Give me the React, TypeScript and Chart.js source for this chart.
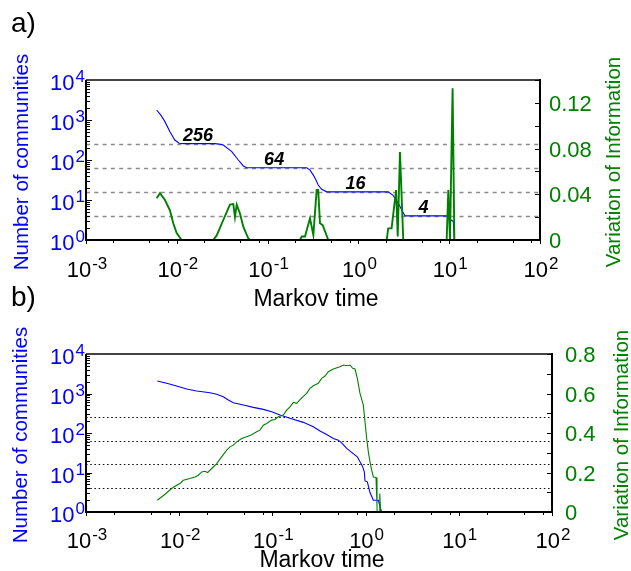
import React, { useEffect, useRef } from "react";
import { Chart, registerables } from "chart.js";

Chart.register(...registerables);

// ---------- Panel a) data ----------
const timeA_N = [0.006, 0.0067, 0.0074, 0.0084, 0.0095, 0.0106, 0.012, 0.0264, 0.029, 0.0325, 0.0403, 0.0476, 0.054, 0.0589, 0.27, 0.293, 0.319, 0.341, 0.361, 0.394, 0.448, 2.13, 2.39, 2.6, 2.82, 3.0, 3.26, 9.78, 10.4, 11.1, 11.4, 100];
const commA = [1780, 1300, 910, 510, 316, 263, 256, 256, 250, 237, 162, 100, 71, 64, 64, 56, 42, 31.6, 23.7, 18.5, 16, 16, 13.3, 10, 7.5, 5.6, 4, 4, 3.2, 2.9, 1, 1];

const timeA_VI = [0.006, 0.00653, 0.0074, 0.0084, 0.00914, 0.00997, 0.0113, 0.0252, 0.0275, 0.0325, 0.0385, 0.0419, 0.0437, 0.0457, 0.0497, 0.054, 0.0612, 0.064, 0.2275, 0.2376, 0.258, 0.293, 0.319, 0.347, 0.361, 0.3775, 0.4045, 0.466, 2.05, 2.13, 2.32, 2.6, 2.71, 2.87, 3.12, 9.38, 9.78, 10.2, 10.9, 11.4, 100];
const viA = [0.0365, 0.041, 0.035, 0.026, 0.0146, 0.006, 0, 0, 0.004, 0.0175, 0.031, 0.0315, 0.02, 0.031, 0.023, 0.0117, 0.0015, 0, 0, 0.003, 0.003, 0.019, 0.0044, 0.0437, 0.0437, 0.0146, 0.013, 0, 0, 0.0102, 0.0102, 0.0437, 0.003, 0.077, 0, 0, 0.0437, 0, 0.1327, 0, 0];

// ---------- Panel b) data ----------
const timeB_N = [0.00583, 0.00734, 0.00939, 0.01202, 0.01539, 0.02141, 0.02523, 0.02975, 0.03366, 0.03809, 0.04876, 0.06243, 0.07992, 0.0982, 0.1207, 0.1544, 0.2147, 0.2749, 0.3241, 0.3822, 0.4505, 0.5098, 0.5535, 0.6263, 0.7087, 0.8153, 0.8708, 0.9226, 0.969, 0.9854, 1.044, 1.115, 1.211, 1.37, 1.452, 1.48, 100];
const commB = [2075, 1815, 1550, 1300, 1157, 1048, 954, 829, 684, 584, 511, 446, 397, 345, 285, 235, 186, 144, 112, 92, 73, 66, 56, 40.6, 32.2, 24.9, 18.6, 14.7, 10.4, 6.1, 5.8, 3.1, 1.98, 1.98, 1.2, 1, 1];

const timeB_VI = [0.00583, 0.00704, 0.0083, 0.00939, 0.0102, 0.01107, 0.01305, 0.01477, 0.01604, 0.01742, 0.01891, 0.0202, 0.02231, 0.02523, 0.02855, 0.03231, 0.03508, 0.03809, 0.04136, 0.0468, 0.05296, 0.05844, 0.06779, 0.07362, 0.07992, 0.08679, 0.0982, 0.1066, 0.1158, 0.1207, 0.131, 0.1422, 0.1544, 0.1677, 0.1822, 0.2061, 0.2331, 0.2531, 0.2749, 0.311, 0.3378, 0.3667, 0.3982, 0.4505, 0.5313, 0.5769, 0.6367, 0.6803, 0.7266, 0.7697, 0.8153, 0.8708, 0.9456, 0.9854, 1.027, 1.07, 1.115, 1.162, 1.211, 1.293, 1.325, 1.33, 1.4, 1.42, 1.45, 100];
const viB = [0.0594, 0.0898, 0.1187, 0.1354, 0.1441, 0.1608, 0.1694, 0.1776, 0.1862, 0.2029, 0.2065, 0.1999, 0.2202, 0.2455, 0.279, 0.313, 0.3297, 0.3384, 0.3551, 0.3724, 0.3805, 0.3891, 0.4058, 0.4145, 0.4398, 0.4485, 0.4652, 0.4687, 0.4819, 0.4855, 0.4906, 0.5159, 0.5327, 0.555, 0.5499, 0.5783, 0.6006, 0.626, 0.6392, 0.6514, 0.6767, 0.6884, 0.7102, 0.7239, 0.7356, 0.7442, 0.7407, 0.7442, 0.7275, 0.7239, 0.6767, 0.6006, 0.5413, 0.4566, 0.3724, 0.3044, 0.2537, 0.2115, 0.1776, 0.1745, 0.034, 0, 0, 0.093, 0, 0];

// ---------- shared axis / annotation values ----------
const refLevels = [256, 64, 16, 4];
const plateauLabels = ["256", "64", "16", "4"];
const plateauLabelTimes = [0.0171, 0.118, 0.93, 5.2];
const xTickExps = [-3, -2, -1, 0, 1, 2];
const yTickExps = [0, 1, 2, 3, 4];
const viTicksA = [0, 0.04, 0.08, 0.12];
const viTickLabelsA = ["0", "0.04", "0.08", "0.12"];
const viTicksB = [0, 0.2, 0.4, 0.6, 0.8];
const viTickLabelsB = ["0", "0.2", "0.4", "0.6", "0.8"];

const FONT = "'Liberation Sans', Arial, Helvetica, sans-serif";
const BLUE = "rgb(0,0,255)";
const GREEN = "rgb(0,128,0)";

type Panel = {
  letter: string;
  top: number;
  height: number;
  pad: { left: number; top: number; right: number; bottom: number };
  viMax: number;
  viStep: number;
  viTicks: number[];
  viTickLabels: string[];
  nTimes: number[];
  nVals: number[];
  viTimes: number[];
  viVals: number[];
  refColor: string;
  refDash: number[];
  refWidth: number;
  letterY: number;
  xLabelOffset: number;
  xTitleY: number;
  leftTitleX: number;
  rightTitleX: number;
  rightLabelGap: number;
  annotate: boolean;
  greenWidth: number;
  blueWidth: number;
};

const panels: Panel[] = [
  {
    letter: "a)", top: 0, height: 312,
    pad: { left: 86, top: 80, right: 91, bottom: 72 },
    viMax: 0.14, viStep: 0.02, viTicks: viTicksA, viTickLabels: viTickLabelsA,
    nTimes: timeA_N, nVals: commA, viTimes: timeA_VI, viVals: viA,
    refColor: "#8a8a8a", refDash: [4, 4.3], refWidth: 1.3,
    letterY: 32, xLabelOffset: 37, xTitleY: 306,
    leftTitleX: 28, rightTitleX: 620, rightLabelGap: 9,
    annotate: true, greenWidth: 1.9, blueWidth: 1.1,
  },
  {
    letter: "b)", top: 280, height: 291,
    pad: { left: 86, top: 74, right: 79, bottom: 59 },
    viMax: 0.8, viStep: 0.1, viTicks: viTicksB, viTickLabels: viTickLabelsB,
    nTimes: timeB_N, nVals: commB, viTimes: timeB_VI, viVals: viB,
    refColor: "#111", refDash: [1.6, 2.6], refWidth: 1.2,
    letterY: 26, xLabelOffset: 36, xTitleY: 287,
    leftTitleX: 27, rightTitleX: 628, rightLabelGap: 13,
    annotate: false, greenWidth: 1.1, blueWidth: 1.1,
  },
];

function drawPow(ctx: CanvasRenderingContext2D, exp: number, x: number, baseline: number, align: "right" | "center", color: string) {
  const base = "10";
  const sup = String(exp);
  ctx.font = `22px ${FONT}`;
  const wb = ctx.measureText(base).width;
  ctx.font = `17px ${FONT}`;
  const ws = ctx.measureText(sup).width;
  const total = wb + ws + 1;
  const sx = align === "right" ? x - total : x - total / 2;
  ctx.fillStyle = color;
  ctx.textAlign = "left";
  ctx.textBaseline = "alphabetic";
  ctx.font = `22px ${FONT}`;
  ctx.fillText(base, sx, baseline);
  ctx.font = `17px ${FONT}`;
  ctx.fillText(sup, sx + wb + 1, baseline - 8);
}

function makePlugin(p: Panel) {
  return {
    id: "panelDecor" + p.letter,
    beforeDatasetsDraw(chart: any) {
      const ctx: CanvasRenderingContext2D = chart.ctx;
      const { left, right } = chart.chartArea;
      const y = chart.scales.y;
      ctx.save();
      ctx.strokeStyle = p.refColor;
      ctx.lineWidth = p.refWidth;
      ctx.setLineDash(p.refDash);
      refLevels.forEach((lv) => {
        const py = Math.round(y.getPixelForValue(lv)) + 0.5;
        ctx.beginPath();
        ctx.moveTo(left, py);
        ctx.lineTo(right, py);
        ctx.stroke();
      });
      ctx.restore();
    },
    afterDatasetsDraw(chart: any) {
      const ctx: CanvasRenderingContext2D = chart.ctx;
      const { left, right, top, bottom } = chart.chartArea;
      const xs = chart.scales.x;
      const ys = chart.scales.y;
      const y2 = chart.scales.y2;
      ctx.save();
      ctx.setLineDash([]);
      ctx.lineWidth = 2;
      ctx.strokeStyle = "#444";
      ctx.beginPath();
      ctx.moveTo(left, top);
      ctx.lineTo(right, top);
      ctx.stroke();
      ctx.strokeStyle = "#000";
      ctx.beginPath();
      ctx.moveTo(left, top);
      ctx.lineTo(left, bottom);
      ctx.lineTo(right, bottom);
      ctx.lineTo(right, top - 1);
      ctx.stroke();
      ctx.lineWidth = 1;
      for (let d = 0; d < 4; d++) {
        for (let k = 1; k <= 9; k++) {
          const v = k * Math.pow(10, d);
          const py = Math.round(ys.getPixelForValue(v)) + 0.5;
          const len = k === 1 ? 6 : 4;
          ctx.beginPath();
          ctx.moveTo(left, py);
          ctx.lineTo(left + len, py);
          ctx.stroke();
        }
      }
      for (let v = 0; v <= p.viMax + 1e-9; v += p.viStep) {
        const py = Math.round(y2.getPixelForValue(v)) + 0.5;
        ctx.beginPath();
        ctx.moveTo(right - 5, py);
        ctx.lineTo(right, py);
        ctx.stroke();
      }
      for (let d = -3; d <= 2; d++) {
        const ks = d === 2 ? [1] : [1, 2, 5, 8];
        ks.forEach((k) => {
          const v = k * Math.pow(10, d);
          const px = Math.round(xs.getPixelForValue(v)) + 0.5;
          ctx.beginPath();
          ctx.moveTo(px, bottom);
          ctx.lineTo(px, bottom + (k === 1 ? 4 : 3));
          ctx.stroke();
        });
      }
      ctx.restore();
    },
    afterDraw(chart: any) {
      const ctx: CanvasRenderingContext2D = chart.ctx;
      const { left, right, top, bottom } = chart.chartArea;
      const xs = chart.scales.x;
      const ys = chart.scales.y;
      const y2 = chart.scales.y2;
      ctx.save();
      ctx.fillStyle = "#000";
      ctx.font = `28px ${FONT}`;
      ctx.textAlign = "left";
      ctx.textBaseline = "alphabetic";
      ctx.fillText(p.letter, 11, p.letterY);
      yTickExps.forEach((e) => {
        const py = ys.getPixelForValue(Math.pow(10, e));
        drawPow(ctx, e, left - 1, py + 10, "right", BLUE);
      });
      xTickExps.forEach((e) => {
        const px = xs.getPixelForValue(Math.pow(10, e));
        drawPow(ctx, e, px + 1, bottom + p.xLabelOffset, "center", "#000");
      });
      ctx.fillStyle = GREEN;
      ctx.font = `22px ${FONT}`;
      ctx.textAlign = "left";
      p.viTicks.forEach((v, i) => {
        const py = y2.getPixelForValue(v);
        ctx.fillText(p.viTickLabels[i], right + p.rightLabelGap, py + 8);
      });
      ctx.fillStyle = "#000";
      ctx.font = `23px ${FONT}`;
      ctx.textAlign = "center";
      ctx.fillText("Markov time", (left + right) / 2 + 3, p.xTitleY);
      const cy = (top + bottom) / 2;
      ctx.save();
      ctx.translate(p.leftTitleX, cy + 2);
      ctx.rotate(-Math.PI / 2);
      ctx.fillStyle = BLUE;
      ctx.font = `20.5px ${FONT}`;
      ctx.textAlign = "center";
      ctx.fillText("Number of communities", 0, 0);
      ctx.restore();
      ctx.save();
      ctx.translate(p.rightTitleX, cy + 2);
      ctx.rotate(-Math.PI / 2);
      ctx.fillStyle = GREEN;
      ctx.font = `20.5px ${FONT}`;
      ctx.textAlign = "center";
      ctx.fillText("Variation of Information", 0, 0);
      ctx.restore();
      if (p.annotate) {
        ctx.fillStyle = "#000";
        ctx.font = `italic bold 18px ${FONT}`;
        ctx.textAlign = "center";
        plateauLabels.forEach((lab, i) => {
          const px = xs.getPixelForValue(plateauLabelTimes[i]);
          const py = ys.getPixelForValue(refLevels[i]);
          ctx.fillText(lab, px, py - 3);
        });
      }
      ctx.restore();
    },
  };
}

function PanelChart({ p }: { p: Panel }) {
  const ref = useRef<HTMLCanvasElement>(null);
  useEffect(() => {
    const canvas = ref.current;
    if (!canvas) return;
    const chart = new Chart(canvas, {
      type: "line",
      data: {
        datasets: [
          {
            data: p.viTimes.map((t, i) => ({ x: t, y: p.viVals[i] })),
            yAxisID: "y2",
            borderColor: GREEN,
            borderWidth: p.greenWidth,
            pointRadius: 0,
            tension: 0,
            fill: false,
            order: 0,
          },
          {
            data: p.nTimes.map((t, i) => ({ x: t, y: p.nVals[i] })),
            yAxisID: "y",
            borderColor: BLUE,
            borderWidth: p.blueWidth,
            pointRadius: 0,
            tension: 0,
            fill: false,
            order: 1,
          },
        ],
      },
      options: {
        animation: false,
        responsive: false,
        devicePixelRatio: 1,
        events: [],
        layout: { padding: p.pad },
        plugins: { legend: { display: false }, tooltip: { enabled: false } },
        scales: {
          x: { type: "logarithmic", min: 0.001, max: 100, display: false },
          y: { type: "logarithmic", min: 1, max: 10000, display: false },
          y2: { type: "linear", min: 0, max: p.viMax, display: false, position: "right" },
        },
      } as any,
      plugins: [makePlugin(p)],
    });
    return () => chart.destroy();
  }, [p]);
  return (
    <canvas
      ref={ref}
      width={631}
      height={p.height}
      style={{ position: "absolute", left: 0, top: p.top, width: 631, height: p.height }}
    />
  );
}

export default function App() {
  return (
    <div style={{ position: "absolute", left: 0, top: 0, width: 631, height: 571, background: "#fff", overflow: "hidden" }}>
      {panels.map((p) => (
        <PanelChart key={p.letter} p={p} />
      ))}
    </div>
  );
}
